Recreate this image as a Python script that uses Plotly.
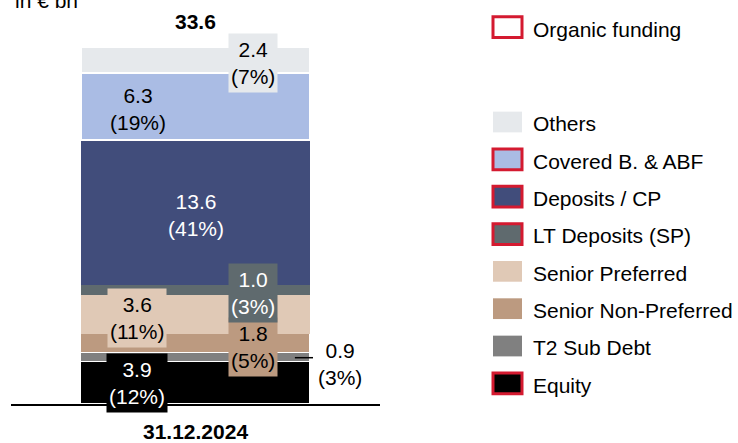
import plotly.graph_objects as go

# funding mix at 31.12.2024, in EUR bn, bottom to top
segments = ["Equity", "T2 Sub Debt", "Senior Non-Preferred", "Senior Preferred",
            "LT Deposits (SP)", "Deposits / CP", "Covered B. & ABF", "Others"]
values = [3.9, 0.9, 1.8, 3.6, 1.0, 13.6, 6.3, 2.4]
shares = [12, 3, 5, 11, 3, 41, 19, 7]
colors = ["#000000", "#808080", "#BC9A80", "#E0C9B6",
          "#5F6A6E", "#414D7B", "#AABCE4", "#E6E9EC"]
organic = [True, False, False, False, True, True, True, False]
total = 33.6
category = "31.12.2024"

# legend, top to bottom
legend_names = ["Others", "Covered B. & ABF", "Deposits / CP", "LT Deposits (SP)",
                "Senior Preferred", "Senior Non-Preferred", "T2 Sub Debt", "Equity"]

RED = "#D41A30"
FONT = "Liberation Sans"
FS = 21
W, H = 738, 443
L, R_PX, BASE = 11, 380, 409          # plot area in pixels
PX_PER_UNIT = 10.776
YMAX = BASE / PX_PER_UNIT
BAR_PX = 229
XHALF = (R_PX - L) / 2 / BAR_PX

fig = go.Figure()

line_w = [1.5, 1.5, 1.5, 0, 0, 0, 2, 2]
for name, v, c, lw in zip(segments, values, colors, line_w):
    fig.add_trace(go.Bar(x=[0], y=[v], width=1, name=name,
                         marker=dict(color=c, line=dict(color="white", width=lw)),
                         showlegend=False, hoverinfo="skip"))

# value labels
light = {"Deposits / CP", "LT Deposits (SP)", "Equity"}
xpos = {"Equity": -0.255, "T2 Sub Debt": 0.526, "Senior Non-Preferred": 0.251,
        "Senior Preferred": -0.255, "LT Deposits (SP)": 0.251, "Deposits / CP": 0,
        "Covered B. & ABF": -0.25, "Others": 0.251}
yshift = {"Senior Non-Preferred": -4, "Equity": 0, "T2 Sub Debt": -6}
boxed = {"Equity", "Senior Non-Preferred", "Senior Preferred", "LT Deposits (SP)", "Others"}

cum = 0
for name, v, s, c in zip(segments, values, shares, colors):
    mid = cum + v / 2
    cum += v
    txt = f"{v:.1f}<br>({s}%)"
    ann = dict(x=xpos[name], y=mid, xref="x", yref="y", text=txt, showarrow=False,
               font=dict(family=FONT, size=FS, color="white" if name in light else "black"),
               yshift=yshift.get(name, -3))
    if name in boxed:
        ann.update(bgcolor=c, borderpad=2, height=54)
    if name == "T2 Sub Debt":
        ann.update(xanchor="left")
        fig.add_shape(type="line", xref="x", yref="y", x0=0.434, x1=0.513, y0=mid, y1=mid,
                      line=dict(color="black", width=1.5))
    fig.add_annotation(**ann)

# total on top
fig.add_annotation(x=0, y=sum(values) + 2.45, xref="x", yref="y", text=f"<b>{total}</b>",
                   showarrow=False, font=dict(family=FONT, size=FS, color="black"))

# unit label (cut at the top edge)
fig.add_annotation(x=(13 - L) / (R_PX - L), y=(BASE - 1) / BASE, xref="paper", yref="paper",
                   xanchor="left", yanchor="middle", text="in € bn", showarrow=False,
                   font=dict(family=FONT, size=FS, color="black"))


def px_x(p):
    return (p - L) / (R_PX - L)


def px_y(p):
    return (BASE - p) / BASE


# custom legend
rows = [("Organic funding", "white", True, 27.5)]
for i, n in enumerate(legend_names):
    idx = segments.index(n)
    rows.append((n, colors[idx], organic[idx], 123.5 + i * 37.8))

for label, fill, border, cy in rows:
    fig.add_shape(type="rect", xref="paper", yref="paper",
                  x0=px_x(493), x1=px_x(522), y0=px_y(cy + 10.5), y1=px_y(cy - 10.5),
                  fillcolor=fill, line=dict(color=RED if border else fill, width=3 if border else 0))
    fig.add_annotation(x=px_x(531), y=px_y(cy + 2), xref="paper", yref="paper",
                       xanchor="left", yanchor="middle", text=label, showarrow=False,
                       font=dict(family=FONT, size=FS, color="black"))

fig.update_layout(
    barmode="stack",
    width=W, height=H,
    margin=dict(l=L, r=W - R_PX, t=0, b=H - BASE),
    plot_bgcolor="white", paper_bgcolor="white",
    font=dict(family=FONT, size=FS, color="black"),
    bargap=0,
)
fig.update_xaxes(range=[-XHALF, XHALF], tickvals=[0], ticktext=[f"<b>{category}</b>"],
                 showgrid=False, zeroline=False, showline=True, linecolor="black", linewidth=2,
                 ticks="", ticklabelstandoff=8, tickfont=dict(family=FONT, size=FS, color="black"),
                 fixedrange=True)
fig.update_yaxes(range=[0, YMAX], visible=False, fixedrange=True)

fig.write_html("out.html", config={"displayModeBar": False},
               post_script="document.body.style.margin='0';document.body.style.overflow='hidden';")
